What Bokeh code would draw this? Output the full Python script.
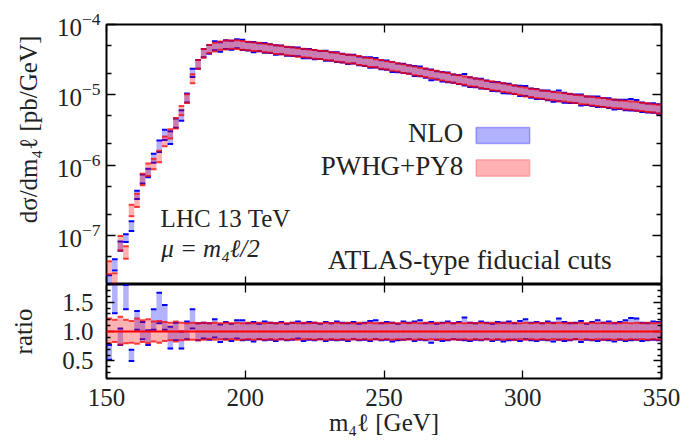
from bokeh.plotting import figure
from bokeh.layouts import column
from bokeh.models import (Range1d, LogAxis, LinearAxis, FixedTicker, Label,
                          BoxAnnotation, CustomJSTickFormatter, NumeralTickFormatter,
                          ColumnDataSource, Span)
from bokeh.embed import file_html
from bokeh.resources import INLINE

# ---------------- data ----------------
bin_width = 2
bin_lo = list(range(150, 350, bin_width))          # m4l bins [GeV]

# PWHG+PY8 central value, in units of 1e-6 pb/GeV
pwhg_central = [
    0.035, 0.024, 0.078, 0.058, 0.23, 0.32, 0.63, 0.87, 1.05, 1.35,
    2.2, 2.8, 4.0, 6.0, 8.9, 17.0, 27.5, 39.0, 44.7, 47.9,
    50.1, 51.3, 52.0, 52.0, 51.0, 49.5, 48.6, 47.7, 46.8, 45.6,
    44.3, 43.3, 42.3, 41.3, 40.3, 39.4, 38.6, 37.8, 37.0, 36.4,
    35.4, 34.4, 33.4, 32.5, 31.9, 30.9, 29.8, 28.9, 28.0, 27.2,
    26.4, 25.5, 24.6, 23.7, 22.9, 22.0, 21.3, 20.6, 19.8, 19.1,
    18.4, 17.8, 17.1, 16.5, 15.9, 15.4, 14.9, 14.4, 13.9, 13.5,
    13.1, 12.7, 12.3, 11.9, 11.4, 11.0, 10.7, 10.4, 10.1, 9.85,
    9.6, 9.4, 9.2, 9.0, 8.8, 8.55, 8.35, 8.15, 7.95, 7.8,
    7.6, 7.45, 7.3, 7.15, 7.05, 6.9, 6.75, 6.6, 6.45, 6.3,
]

# scale-uncertainty bands, relative to the PWHG+PY8 central value
pwhg_ratio_lo = [
    0.80, 0.82, 0.78, 0.80, 0.81, 0.79, 0.82, 0.80, 0.83, 0.81,
    0.84, 0.85, 0.83, 0.85, 0.86, 0.86, 0.85, 0.86, 0.87, 0.86,
    0.87, 0.86, 0.87, 0.86, 0.86, 0.87, 0.86, 0.87, 0.86, 0.87,
    0.86, 0.87, 0.86, 0.87, 0.86, 0.87, 0.87, 0.86, 0.87, 0.86,
    0.87, 0.86, 0.87, 0.86, 0.87, 0.86, 0.87, 0.86, 0.87, 0.86,
    0.87, 0.86, 0.87, 0.86, 0.87, 0.86, 0.87, 0.86, 0.87, 0.86,
    0.87, 0.86, 0.87, 0.86, 0.87, 0.86, 0.87, 0.86, 0.87, 0.86,
    0.87, 0.86, 0.87, 0.86, 0.87, 0.86, 0.87, 0.86, 0.87, 0.86,
    0.87, 0.86, 0.87, 0.86, 0.87, 0.86, 0.87, 0.86, 0.87, 0.86,
    0.87, 0.86, 0.87, 0.86, 0.87, 0.86, 0.87, 0.86, 0.87, 0.86,
]
pwhg_ratio_hi = [
    1.22, 1.20, 1.25, 1.20, 1.18, 1.22, 1.19, 1.21, 1.17, 1.18,
    1.16, 1.15, 1.17, 1.15, 1.14, 1.15, 1.14, 1.15, 1.14, 1.15,
    1.14, 1.15, 1.14, 1.15, 1.14, 1.15, 1.14, 1.15, 1.14, 1.15,
    1.14, 1.15, 1.14, 1.15, 1.14, 1.15, 1.14, 1.15, 1.14, 1.15,
    1.14, 1.15, 1.14, 1.15, 1.14, 1.15, 1.14, 1.15, 1.14, 1.15,
    1.14, 1.15, 1.14, 1.15, 1.14, 1.15, 1.14, 1.15, 1.14, 1.15,
    1.14, 1.15, 1.14, 1.15, 1.14, 1.15, 1.14, 1.15, 1.14, 1.15,
    1.14, 1.15, 1.14, 1.15, 1.14, 1.15, 1.14, 1.15, 1.14, 1.15,
    1.14, 1.15, 1.14, 1.15, 1.14, 1.15, 1.14, 1.15, 1.14, 1.15,
    1.14, 1.15, 1.14, 1.15, 1.14, 1.15, 1.14, 1.15, 1.14, 1.15,
]
nlo_ratio_lo = [
    0.52, 1.31, 0.77, 1.38, 0.50, 1.03, 0.87, 0.77, 1.03, 1.14,
    1.03, 0.71, 0.85, 0.71, 0.87, 1.05, 0.85, 0.88, 0.86, 0.90,
    0.82, 0.87, 0.84, 0.88, 0.85, 0.86, 0.83, 0.87, 0.85, 0.86,
    0.84, 0.87, 0.85, 0.86, 0.88, 0.84, 0.86, 0.85, 0.87, 0.84,
    0.86, 0.85, 0.86, 0.84, 0.87, 0.85, 0.86, 0.84, 0.87, 0.85,
    0.86, 0.83, 0.85, 0.86, 0.87, 0.84, 0.86, 0.85, 0.81, 0.86,
    0.84, 0.85, 0.87, 0.86, 0.85, 0.84, 0.86, 0.85, 0.87, 0.84,
    0.86, 0.83, 0.85, 0.86, 0.84, 0.87, 0.85, 0.84, 0.86, 0.85,
    0.83, 0.86, 0.84, 0.85, 0.87, 0.82, 0.86, 0.85, 0.84, 0.86,
    0.85, 0.83, 0.86, 0.84, 0.85, 0.86, 0.84, 0.85, 0.86, 0.85,
]
nlo_ratio_hi = [
    0.77, 1.90, 1.05, 1.79, 0.69, 1.35, 1.16, 1.02, 1.38, 1.66,
    1.45, 1.08, 1.15, 1.00, 1.17, 1.38, 1.14, 1.15, 1.14, 1.21,
    1.12, 1.16, 1.13, 1.19, 1.19, 1.14, 1.16, 1.13, 1.17, 1.15,
    1.14, 1.16, 1.13, 1.15, 1.17, 1.14, 1.16, 1.15, 1.13, 1.16,
    1.14, 1.17, 1.15, 1.14, 1.16, 1.13, 1.15, 1.18, 1.19, 1.14,
    1.16, 1.15, 1.13, 1.17, 1.15, 1.17, 1.19, 1.14, 1.16, 1.13,
    1.15, 1.17, 1.14, 1.16, 1.24, 1.15, 1.14, 1.17, 1.15, 1.13,
    1.16, 1.15, 1.17, 1.14, 1.18, 1.21, 1.15, 1.16, 1.14, 1.17,
    1.15, 1.22, 1.16, 1.14, 1.15, 1.18, 1.13, 1.16, 1.19, 1.15,
    1.17, 1.14, 1.16, 1.19, 1.23, 1.22, 1.15, 1.14, 1.17, 1.16,
]

x_ticks = [150, 200, 250, 300, 350]
log_ticks = [1e-7, 1e-6, 1e-5, 1e-4]
log_minor = [2e-8, 5e-8, 2e-7, 5e-7, 2e-6, 5e-6, 2e-5, 5e-5]
ratio_ticks = [0.5, 1.0, 1.5]
ratio_minor = [0.2, 0.3, 0.4, 0.6, 0.7, 0.8, 0.9, 1.1, 1.2, 1.3, 1.4, 1.6, 1.7, 1.8]

# ---------------- derived columns ----------------
unit = 1e-6
x0 = bin_lo
x1 = [b + bin_width for b in bin_lo]
cen = [c * unit for c in pwhg_central]
src = ColumnDataSource(dict(
    x0=x0, x1=x1,
    p_lo=[c * r for c, r in zip(cen, pwhg_ratio_lo)],
    p_hi=[c * r for c, r in zip(cen, pwhg_ratio_hi)],
    n_lo=[c * r for c, r in zip(cen, nlo_ratio_lo)],
    n_hi=[c * r for c, r in zip(cen, nlo_ratio_hi)],
    rp_lo=pwhg_ratio_lo, rp_hi=pwhg_ratio_hi,
    rn_lo=nlo_ratio_lo, rn_hi=nlo_ratio_hi,
))

FONT = "Liberation Serif"
TXT = "#222222"
BLUE = "#0000ff"
RED = "#ff0000"
FILL_A = 0.3
EDGE_W = 2
LEFT = 106

blank = CustomJSTickFormatter(code="return ''")


def style_axis(ax, major_in=8, minor_in=4, labels=True, size="25px"):
    ax.axis_line_color = None
    ax.major_tick_in = major_in
    ax.major_tick_out = 0
    ax.minor_tick_in = minor_in
    ax.minor_tick_out = 0
    ax.major_tick_line_width = 1.3
    ax.minor_tick_line_width = 1.3
    ax.major_tick_line_color = "black"
    ax.minor_tick_line_color = "black"
    if labels:
        ax.major_label_text_font = FONT
        ax.major_label_text_font_size = size
        ax.major_label_text_color = TXT
    else:
        ax.major_label_text_font_size = "0px"
        ax.major_label_standoff = 0


def axis_title(ax, text, standoff):
    ax.axis_label = text
    ax.axis_label_text_font = FONT
    ax.axis_label_text_font_size = "25px"
    ax.axis_label_text_font_style = "normal"
    ax.axis_label_text_color = TXT
    ax.axis_label_standoff = standoff


def add_text(fig, x, y, text, size, align="left", style="normal"):
    fig.add_layout(Label(x=x, y=y, text=text, text_font=FONT, text_font_size=size,
                         text_align=align, text_baseline="middle",
                         text_color=TXT, text_font_style=style))


def draw_bands(fig, lo_n, hi_n, lo_p, hi_p):
    fig.quad(left="x0", right="x1", bottom=lo_n, top=hi_n, source=src,
             fill_color=BLUE, fill_alpha=FILL_A, line_color=None)
    for col in (lo_n, hi_n):
        fig.segment(x0="x0", x1="x1", y0=col, y1=col, source=src,
                    line_color=BLUE, line_width=EDGE_W)
    fig.quad(left="x0", right="x1", bottom=lo_p, top=hi_p, source=src,
             fill_color=RED, fill_alpha=FILL_A, line_color=None)
    for col in (lo_p, hi_p):
        fig.segment(x0="x0", x1="x1", y0=col, y1=col, source=src,
                    line_color=RED, line_alpha=0.75, line_width=EDGE_W)


def frame_style(fig):
    fig.grid.visible = False
    fig.outline_line_color = "black"
    fig.outline_line_width = 2
    fig.background_fill_color = "white"
    fig.border_fill_color = "white"


# ---------------- top panel ----------------
top = figure(frame_width=555, frame_height=260, y_axis_type="log",
             x_range=Range1d(150, 350), y_range=Range1d(10 ** -7.7, 1e-4),
             output_backend="svg", toolbar_location=None,
             min_border_left=LEFT, min_border_right=20, min_border_top=24,
             min_border_bottom=0)
frame_style(top)

lt = FixedTicker(ticks=log_ticks, minor_ticks=log_minor)
xt = FixedTicker(ticks=x_ticks, minor_ticks=[])

top.yaxis[0].ticker = lt
style_axis(top.yaxis[0], 9, 5)
top.yaxis[0].major_label_standoff = 6
# the label sits above the frame centre in the original; em spaces push it up
axis_title(top.yaxis[0], "\u2003\u2003dσ/dm₄ℓ [pb/GeV]", 12)
top.xaxis[0].ticker = xt
top.xaxis[0].formatter = blank
style_axis(top.xaxis[0], labels=False)

ra = LogAxis(ticker=lt, formatter=blank)
style_axis(ra, 9, 5, labels=False)
top.add_layout(ra, "right")
ta = LinearAxis(ticker=xt, formatter=blank)
style_axis(ta, labels=False)
top.add_layout(ta, "above")

draw_bands(top, "n_lo", "n_hi", "p_lo", "p_hi")

# legend (label left of swatch, as in the original)
top.add_layout(BoxAnnotation(left=283.2, right=302.5, bottom=10 ** -5.695, top=10 ** -5.466,
                             fill_color=BLUE, fill_alpha=FILL_A,
                             line_color=BLUE, line_width=1.5))
top.add_layout(BoxAnnotation(left=283.2, right=302.5, bottom=10 ** -6.161, top=10 ** -5.923,
                             fill_color=RED, fill_alpha=FILL_A,
                             line_color="#ff4040", line_width=1.5))

add_text(top, 278.6, 10 ** -5.548, "NLO", "27px", "right")
add_text(top, 278.6, 10 ** -6.014, "PWHG+PY8", "27px", "right")
add_text(top, 169.5, 10 ** -6.76, "LHC 13 TeV", "25px")
add_text(top, 169.7, 10 ** -7.193, "μ = m₄ℓ/2", "25px", style="italic")
add_text(top, 280.9, 10 ** -7.35, "ATLAS-type fiducial cuts", "27.5px", "center")

# ---------------- ratio panel ----------------
bot = figure(frame_width=555, frame_height=94, x_range=top.x_range,
             y_range=Range1d(0.2, 1.8),
             output_backend="svg", toolbar_location=None,
             min_border_left=LEFT, min_border_right=20, min_border_top=0,
             min_border_bottom=4)
frame_style(bot)

rt = FixedTicker(ticks=ratio_ticks, minor_ticks=ratio_minor)
bot.yaxis[0].ticker = rt
bot.yaxis[0].formatter = NumeralTickFormatter(format="0.0")
style_axis(bot.yaxis[0], 8, 4)
bot.yaxis[0].major_label_standoff = 13
axis_title(bot.yaxis[0], "ratio", 22)
bot.xaxis[0].ticker = xt
style_axis(bot.xaxis[0], 8, 4)
bot.xaxis[0].major_label_standoff = 10
axis_title(bot.xaxis[0], "m₄ℓ [GeV]", 0)

rr = LinearAxis(ticker=rt, formatter=blank)
style_axis(rr, 8, 4, labels=False)
bot.add_layout(rr, "right")
tb = LinearAxis(ticker=xt, formatter=blank)
style_axis(tb, labels=False)
bot.add_layout(tb, "above")

draw_bands(bot, "rn_lo", "rn_hi", "rp_lo", "rp_hi")
bot.add_layout(Span(location=1.0, dimension="width", line_color=RED, line_width=2))

layout = column(top, bot, spacing=0)
open("out.html", "w").write(file_html(layout, INLINE))
